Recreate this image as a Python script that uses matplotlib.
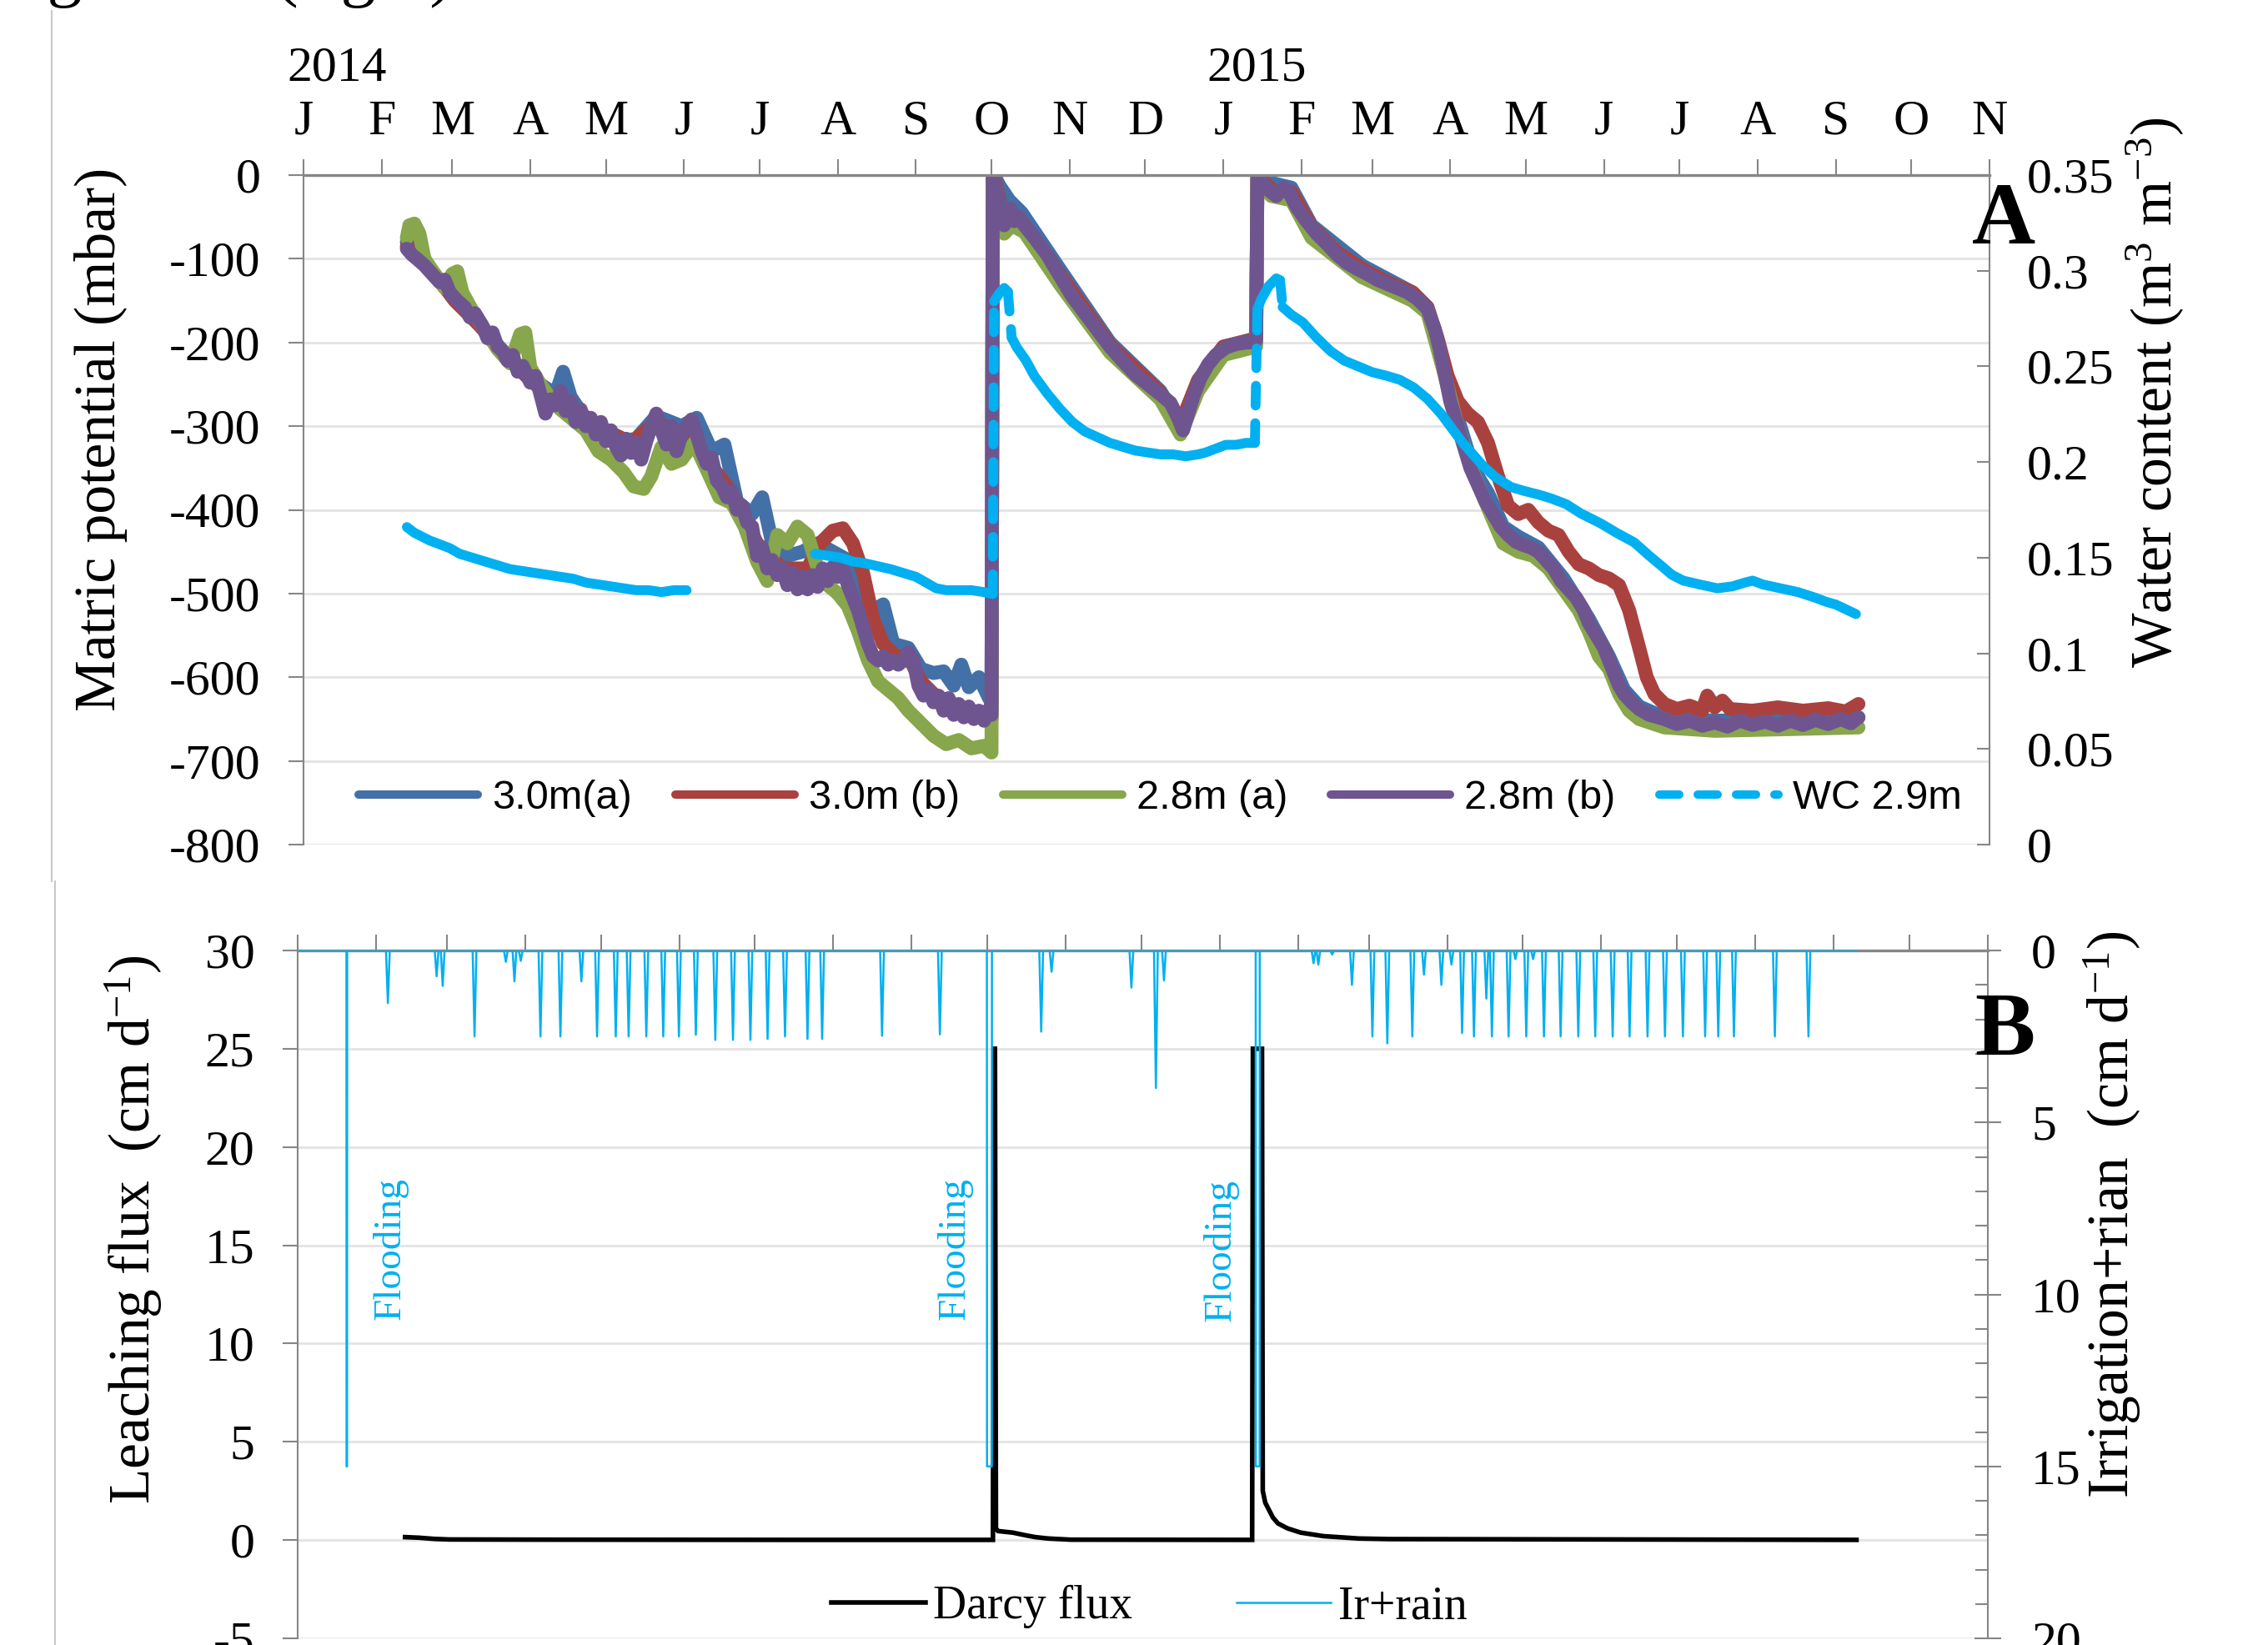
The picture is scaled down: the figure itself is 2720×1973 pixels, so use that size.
import numpy as np
import matplotlib
matplotlib.use("Agg")
import matplotlib.pyplot as plt
from matplotlib.lines import Line2D
from matplotlib import font_manager as fm

# ---------------------------------------------------------------- data
month_labels = list("JFMAMJJASONDJFMAMJJASON")
year_labels = ["2014", "2015"]
months = np.arange("2014-01", "2015-12", dtype="datetime64[M]")
month_days = (months.astype("datetime64[D]") - np.datetime64("2014-01-01")).astype(int)
year_days = [month_days[0], month_days[12]]

# matric potential (mbar), x = days since 1 Jan 2014
blue_day = [41, 50, 60, 70, 80, 90, 100, 103, 106, 112,
            120, 126, 132, 140, 150, 156, 162, 167, 172, 178,
            182, 186, 192, 198, 204, 210, 216, 220, 226, 230,
            234, 240, 245, 250, 254, 258, 261, 264, 268, 272,
            273, 273.5, 274, 276, 280, 285, 300, 320, 340, 348,
            355, 365, 378, 378.5, 385, 392, 400, 420, 440, 446,
            452, 458, 464, 470, 476, 482, 490, 500, 510, 518,
            524, 530, 540, 560, 590, 617]
blue_val = [-80, -112, -148, -180, -213, -242, -262, -235, -265, -292,
            -310, -318, -315, -288, -300, -290, -330, -322, -390, -405,
            -385, -440, -455, -450, -440, -450, -460, -490, -520, -513,
            -560, -565, -590, -595, -593, -610, -585, -612, -600, -625,
            -630, -3, 0, -12, -30, -45, -112, -200, -258, -298,
            -245, -205, -195, 0, -10, -15, -60, -108, -140, -158,
            -220, -290, -350, -380, -420, -432, -445, -482, -530, -575,
            -615, -635, -648, -652, -650, -648]

red_day = [41, 50, 60, 70, 80, 90, 100, 110, 120, 130,
           140, 150, 160, 170, 180, 190, 200, 205, 210, 214,
           218, 222, 226, 230, 235, 240, 245, 250, 255, 260,
           265, 270, 273, 273.5, 274, 278, 285, 300, 320, 340,
           348, 355, 365, 378, 378.5, 385, 392, 400, 410, 420,
           430, 440, 446, 450, 454, 458, 462, 466, 470, 474,
           478, 482, 486, 490, 494, 498, 502, 506, 510, 514,
           518, 522, 526, 530, 533, 536, 540, 545, 550, 555,
           557, 560, 563, 566, 575, 585, 595, 605, 612, 617]
red_val = [-85, -110, -150, -180, -215, -245, -270, -285, -305, -320,
           -295, -310, -340, -380, -440, -470, -470, -440, -425, -422,
           -440, -475, -530, -560, -575, -575, -605, -620, -628, -635,
           -640, -645, -650, -5, 0, -55, -55, -118, -203, -260,
           -298, -245, -205, -196, 0, -20, -20, -62, -92, -112,
           -128, -140, -158, -195, -240, -270, -285, -295, -320, -360,
           -395, -405, -400, -415, -425, -430, -450, -465, -470, -478,
           -482, -490, -520, -565, -600, -620, -632, -638, -634, -640,
           -622, -636, -628, -638, -640, -636, -640, -637, -641, -632]

green_day = [41, 42, 44, 46, 48, 52, 56, 59, 61, 63,
             67, 72, 77, 82, 86, 88, 90, 94, 100, 106,
             112, 117, 122, 127, 131, 135, 138, 142, 146, 150,
             155, 160, 165, 170, 175, 180, 184, 188, 192, 196,
             200, 204, 208, 212, 216, 220, 224, 228, 232, 236,
             240, 245, 250, 255, 260, 265, 270, 273, 273.5, 274,
             276, 278, 281, 286, 300, 320, 340, 348, 355, 365,
             378, 378.5, 384, 392, 400, 420, 440, 446, 452, 458,
             464, 470, 476, 482, 488, 494, 500, 506, 510, 514,
             518, 522, 526, 530, 540, 560, 590, 617]
green_val = [-75, -60, -58, -70, -100, -118, -135, -118, -115, -140,
             -162, -185, -208, -225, -190, -188, -230, -250, -275, -290,
             -305, -330, -340, -355, -372, -375, -360, -325, -345, -340,
             -320, -352, -385, -392, -420, -462, -485, -430, -440, -420,
             -430, -470, -490, -500, -515, -545, -580, -605, -615, -625,
             -640, -655, -670, -680, -675, -685, -682, -690, -10, -5,
             -35, -70, -60, -68, -130, -212, -268, -310, -258, -215,
             -205, -5, -25, -30, -75, -122, -150, -165, -230, -300,
             -355, -398, -440, -450, -455, -470, -495, -520, -545, -575,
             -590, -620, -640, -650, -660, -664, -662, -660]

purple_day = [41, 43, 45, 48, 51, 54, 56, 58, 61, 64,
              66, 68, 71, 73, 75, 77, 79, 81, 83, 85,
              87, 90, 92, 94, 96, 98, 100, 102, 104, 106,
              108, 110, 112, 114, 116, 118, 120, 122, 124, 126,
              128, 130, 132, 134, 136, 138, 140, 142, 144, 146,
              148, 150, 152, 154, 156, 158, 160, 162, 164, 166,
              168, 170, 172, 174, 176, 178, 180, 182, 184, 186,
              188, 190, 192, 194, 196, 198, 200, 202, 204, 206,
              208, 210, 212, 214, 216, 218, 220, 222, 224, 226,
              228, 230, 232, 234, 236, 238, 240, 242, 244, 246,
              248, 250, 252, 254, 256, 258, 260, 262, 264, 266,
              268, 270, 272, 273, 273.5, 274, 275, 276.5, 278, 279,
              280.5, 282, 284, 286, 290, 295, 300, 305, 310, 315,
              320, 325, 330, 335, 340, 344, 347, 349, 351, 353,
              356, 359, 362, 366, 370, 374, 377, 378, 378.5, 380,
              383, 386, 389, 391, 394, 398, 402, 406, 410, 414,
              418, 422, 426, 430, 434, 438, 442, 446, 449, 451,
              453, 455, 457, 459, 461, 463, 466, 469, 472, 475,
              478, 481, 484, 487, 490, 493, 496, 499, 502, 505,
              508, 510, 512, 514, 516, 518, 520, 522, 524, 527,
              530, 534, 540, 545, 550, 555, 560, 565, 570, 575,
              580, 585, 590, 595, 600, 605, 610, 614, 617]
purple_val = [-88, -95, -100, -108, -118, -128, -125, -140, -150, -158,
              -170, -165, -180, -195, -188, -205, -210, -222, -215, -235,
              -228, -248, -240, -262, -285, -268, -275, -258, -282, -270,
              -295, -280, -300, -290, -310, -295, -318, -305, -325, -335,
              -315, -332, -320, -340, -318, -300, -285, -305, -322, -300,
              -330, -310, -300, -292, -310, -330, -345, -338, -365, -372,
              -385, -378, -400, -395, -415, -420, -455, -445, -470, -460,
              -478, -470, -490, -475, -495, -480, -495, -478, -492, -470,
              -485, -468, -480, -470, -490, -505, -520, -540, -560, -575,
              -580, -575, -585, -580, -585, -580, -570, -580, -610, -622,
              -615, -630, -622, -640, -625, -645, -632, -648, -635, -650,
              -640, -652, -638, -645, -5, -2, -20, -35, -60, -45,
              -40, -55, -50, -60, -75, -95, -120, -145, -165, -185,
              -205, -222, -238, -250, -262, -272, -290, -305, -285, -265,
              -242, -226, -215, -206, -202, -200, -200, -198, -3, -6,
              -18, -25, -15, -20, -38, -55, -70, -82, -95, -105,
              -112, -118, -125, -130, -135, -140, -148, -160, -185, -210,
              -240, -270, -290, -310, -330, -350, -370, -390, -405, -420,
              -430, -438, -442, -445, -450, -460, -470, -485, -495, -505,
              -520, -535, -545, -555, -565, -580, -595, -610, -620, -630,
              -638, -645, -650, -656, -652, -658, -654, -659, -652, -657,
              -653, -658, -652, -657, -651, -656, -650, -655, -648]

# water content at 2.9 m (m3 m-3); nan = no data
wc_day = [41, 44, 47, 50, 54, 58, 62, 67, 72, 77,
          82, 87, 92, 97, 102, 107, 112, 117, 122, 127,
          132, 137, 142, 147, 152, 177,
          203, 208, 213, 218, 223, 228, 233, 238, 243, 247,
          251, 255, 260, 265, 270, 273.5, 274, 276, 278, 279.5,
          281, 283, 286.7, 290, 295, 300, 305, 310, 315, 320,
          325, 330, 335, 340, 345, 350, 355, 358, 362, 366,
          370, 374, 377.5, 378.5, 380, 383, 386, 387.5, 388.5, 392,
          396.5, 402, 407.5, 413, 418.5, 424, 430, 435, 440.5, 446,
          451.5, 456, 460, 464, 468, 473, 479, 484, 490, 495,
          501, 507, 514.6, 521, 528, 534, 539, 543, 547.5, 554,
          561, 567, 572, 575, 579, 586, 593, 600, 604, 608,
          612, 616]
wc_val = [0.166, 0.163, 0.161, 0.159, 0.157, 0.155, 0.152, 0.150, 0.148, 0.146,
          0.144, 0.143, 0.142, 0.141, 0.140, 0.139, 0.137, 0.136, 0.135, 0.134,
          0.133, 0.133, 0.132, 0.133, 0.133, np.nan,
          0.152, 0.151, 0.150, 0.148, 0.147, 0.1455, 0.144, 0.142, 0.140, 0.137,
          0.134, 0.133, 0.133, 0.133, 0.132, 0.131, 0.284, 0.288, 0.291, 0.289,
          0.265, 0.260, 0.253, 0.245, 0.236, 0.228, 0.221, 0.216, 0.213, 0.210,
          0.208, 0.206, 0.205, 0.204, 0.204, 0.203, 0.204, 0.205, 0.207, 0.209,
          0.209, 0.210, 0.210, 0.280, 0.285, 0.292, 0.296, 0.295, 0.281, 0.277,
          0.273, 0.265, 0.258, 0.253, 0.250, 0.247, 0.245, 0.243, 0.239, 0.233,
          0.225, 0.217, 0.210, 0.204, 0.198, 0.192, 0.187, 0.185, 0.183, 0.181,
          0.178, 0.173, 0.168, 0.163, 0.158, 0.151, 0.1455, 0.141, 0.138, 0.136,
          0.134, 0.135, 0.137, 0.138, 0.136, 0.134, 0.132, 0.129, 0.127, 0.1255,
          0.123, 0.1205]

# Darcy flux (cm/d)
darcy_day = [42.5, 48, 54, 60, 100, 200, 275.2, 275.5, 276.0, 276.4,
             277.2, 280, 283, 288.6, 292, 297, 306, 377.8, 378.1, 381.7,
             382.0, 383, 386, 388, 391.7, 397, 406, 420, 432, 617]
darcy_val = [0.15, 0.12, 0.06, 0.03, 0.02, 0.01, 0.01, 25, 25, 0.6,
             0.46, 0.42, 0.38, 0.23, 0.15, 0.08, 0.02, 0.01, 25, 25,
             2.5, 1.9, 1.15, 0.85, 0.6, 0.38, 0.2, 0.08, 0.05, 0.01]

# irrigation + rain events (cm/d)
irr_day = [35.7, 55.0, 57.4, 70.0, 82.4, 85.8, 88.3, 96.1, 104.0, 112.3,
           118.5, 125.9, 131.0, 138.0, 144.7, 150.9, 157.6, 165.3, 172.3, 179.2,
           186.0, 192.9, 201.8, 207.6, 231.3, 254.2, 294.3, 298.4, 330.0, 339.7,
           342.9, 402.1, 404.0, 409.5, 417.3, 425.4, 431.3, 441.2, 445.8, 452.7,
           456.7, 460.9, 465.6, 470.5, 472.7, 479.3, 482.0, 486.3, 489.0, 493.3,
           499.9, 506.9, 513.6, 520.5, 527.2, 534.3, 541.2, 548.3, 557.1, 562.3,
           568.5, 584.7, 598.0]
irr_depth = [1.53, 0.75, 1.03, 2.5, 0.33, 0.9, 0.3, 2.5, 2.5, 0.9,
             2.5, 2.5, 2.5, 2.5, 2.5, 2.5, 2.45, 2.6, 2.6, 2.6,
             2.57, 2.5, 2.57, 2.57, 2.48, 2.44, 2.36, 0.62, 1.08, 4.0,
             0.87, 0.37, 0.41, 0.12, 1.0, 2.5, 2.7, 2.5, 0.7, 1.0,
             0.41, 2.4, 2.5, 1.4, 2.5, 2.5, 0.25, 2.5, 0.25, 2.5,
             2.5, 2.5, 2.5, 2.5, 2.5, 2.5, 2.5, 2.5, 2.5, 2.5,
             2.5, 2.5, 2.5]
flood_start = [19.3, 272.8, 379.2]
flood_end = [19.6, 274.8, 380.8]
flood_depth = [15, 15, 15]
irr_first, irr_last = 0, 617

# ---------------------------------------------------------------- style
W, H, DPI = 2720, 1973, 100
plt.rcParams["font.family"] = ["Liberation Serif", "DejaVu Serif"]
plt.rcParams["axes.unicode_minus"] = False
plt.rcParams["mathtext.fontset"] = "custom"
plt.rcParams["mathtext.rm"] = "Liberation Serif"

names = {f.name for f in fm.fontManager.ttflist}
if "Liberation Sans Narrow" in names:
    LEGFONT, LEGSIZE = "Liberation Sans Narrow", 41
else:
    LEGFONT, LEGSIZE = "Liberation Sans", 35

GRAY = "#868686"
GRID = "#e3e3e3"
CYAN = "#00B0F0"
C_BLUE, C_RED, C_GREEN, C_PURPLE = "#4470A8", "#A9423F", "#88A64B", "#6F5590"
TICK = 43
LAB = 50

fig = plt.figure(figsize=(W / DPI, H / DPI), dpi=DPI)
axA = fig.add_axes([364 / W, 1 - 1013 / H, (2386 - 364) / W, (1013 - 210) / H])
axB = fig.add_axes([357 / W, 1 - 1965 / H, (2384 - 357) / W, (1965 - 1140) / H])

for ax in (axA, axB):
    ax.set_xlim(0, 669)
    ax.xaxis.tick_top()
    ax.set_xticks(month_days)
    ax.tick_params(axis="x", direction="out", length=14, width=1.5, color=GRAY,
                   pad=12, labelsize=TICK)
    ax.spines["bottom"].set_visible(False)
    ax.spines["right"].set_visible(False)
    ax.spines["top"].set_color(GRAY)
    ax.spines["top"].set_linewidth(2.4)
    ax.spines["left"].set_color(GRAY)
    ax.spines["left"].set_linewidth(1.5)
    ax.grid(axis="y", color=GRID, lw=2)
    ax.set_axisbelow(True)
    ax.tick_params(axis="y", direction="out", length=13, width=1.5, color=GRAY,
                   pad=24, labelsize=TICK)
axA.set_xticklabels(month_labels)
axB.set_xticklabels([])

# ---------------- panel A
axA.set_ylim(-800, 0)
axA.set_yticks(np.arange(-800, 1, 100))
lwm = 12
for d, v, c in ((blue_day, blue_val, C_BLUE), (red_day, red_val, C_RED),
                (green_day, green_val, C_GREEN), (purple_day, purple_val, C_PURPLE)):
    axA.plot(d, v, color=c, lw=lwm, solid_capstyle="round", solid_joinstyle="round")

for yd, yl in zip(year_days, year_labels):
    axA.annotate(yl, xy=(yd, 1), xycoords=("data", "axes fraction"),
                 xytext=(-14, 82), textcoords="offset points",
                 ha="left", va="baseline", fontsize=TICK)

axA2 = axA.twinx()
axA2.set_ylim(0, 0.35)
wc_ticks = [0, 0.05, 0.1, 0.15, 0.2, 0.25, 0.3, 0.35]
axA2.set_yticks(wc_ticks)
axA2.set_yticklabels(["%g" % t for t in wc_ticks])
axA2.tick_params(axis="y", direction="in", length=11, width=1.5, color=GRAY,
                 pad=32, labelsize=TICK)
for s in ("left", "top", "bottom"):
    axA2.spines[s].set_visible(False)
axA2.spines["right"].set_color(GRAY)
axA2.spines["right"].set_linewidth(1.5)

wd = np.array(wc_day, float)
wv = np.array(wc_val, float)
jump = np.abs(np.diff(wv)) > 0.012
xs, ys = [], []
for i in range(len(wd)):
    xs.append(wd[i]); ys.append(wv[i])
    if i < len(jump) and jump[i]:
        xs.append(np.nan); ys.append(np.nan)
lww = 8.5
axA2.plot(xs, ys, color=CYAN, lw=lww, solid_capstyle="round", solid_joinstyle="round")
for i in np.where(jump)[0]:
    axA2.plot(wd[i:i + 2], wv[i:i + 2], color=CYAN, lw=lww,
              dashes=(2.0, 1.8), dash_capstyle="round")

handlesA = [Line2D([], [], color=c, lw=7.2, solid_capstyle="round")
            for c in (C_BLUE, C_RED, C_GREEN, C_PURPLE)]
handlesA.append(Line2D([], [], color=CYAN, lw=7.2, dashes=(2.4, 2.2),
                       dash_capstyle="round"))
labelsA = ["3.0m(a)", "3.0m (b)", "2.8m (a)", "2.8m (b)", "WC 2.9m"]
fpx = LEGSIZE * DPI / 72.0
axA2.legend(handlesA, labelsA, loc="center left",
            bbox_to_anchor=(430 / W, 1 - 958 / H), bbox_transform=fig.transFigure,
            ncol=5, frameon=False, borderpad=0, borderaxespad=0,
            handlelength=143 / fpx, handletextpad=17 / fpx, columnspacing=52 / fpx,
            prop={"family": LEGFONT, "size": LEGSIZE})

# ---------------- panel B
axB.set_ylim(-5, 30)
axB.set_yticks(np.arange(-5, 31, 5))
axB.plot(darcy_day, darcy_val, color="black", lw=4, solid_joinstyle="miter")

axB2 = axB.twinx()
axB2.set_ylim(20, 0)
axB2.set_yticks([0, 5, 10, 15, 20])
axB2.set_yticks(np.arange(0, 21, 1), minor=True)
axB2.tick_params(axis="y", which="major", direction="inout", length=23, width=1.5,
                 color=GRAY, pad=26, labelsize=TICK)
axB2.tick_params(axis="y", which="minor", direction="in", length=11, width=1.5,
                 color=GRAY)
for s in ("left", "top", "bottom"):
    axB2.spines[s].set_visible(False)
axB2.spines["right"].set_color(GRAY)
axB2.spines["right"].set_linewidth(1.5)

events = []
for d, h in zip(irr_day, irr_depth):
    events.append((d, [(d - 0.75, 0), (d, h), (d + 0.75, 0)]))
for s, e, h in zip(flood_start, flood_end, flood_depth):
    events.append((s, [(s, 0), (s + 0.05, h), (e - 0.05, h), (e, 0)]))
events.sort(key=lambda t: t[0])
pts = [(irr_first, 0)]
for _, p in events:
    pts.extend(p)
pts.append((irr_last, 0))
px, py = zip(*pts)
axB2.plot(px, py, color=CYAN, lw=1.8)

handlesB = [Line2D([], [], color="black", lw=4), Line2D([], [], color=CYAN, lw=1.8)]
fpxB = 40 * DPI / 72.0
axB2.legend(handlesB, ["Darcy flux", "Ir+rain"], loc="center left",
            bbox_to_anchor=(997 / W, 1 - 1927 / H), bbox_transform=fig.transFigure,
            ncol=2, frameon=False, borderpad=0, borderaxespad=0,
            handlelength=113 / fpxB, handletextpad=9 / fpxB, columnspacing=125 / fpxB,
            prop={"family": ["Liberation Serif"], "size": 40})

for xpx, ypx in ((468, 1498), (1145, 1498), (1464, 1500)):
    fig.text(xpx / W, 1 - ypx / H, "Flooding", rotation=90, ha="center", va="center",
             fontsize=34, color=CYAN)

# ---------------- axis labels & panel letters
fig.text(121 / W, 1 - 527 / H, "Matric potential (mbar)", rotation=90,
         ha="center", va="center", fontsize=LAB)
fig.text(2585 / W, 1 - 471 / H, "Water content (m$\\mathregular{^{3}}$ m$\\mathregular{^{-3}}$)",
         rotation=90, ha="center", va="center", fontsize=LAB)
fig.text(160 / W, 1 - 1475 / H, "Leaching flux  (cm d$\\mathregular{^{-1}}$)", rotation=90,
         ha="center", va="center", fontsize=LAB)
fig.text(2533 / W, 1 - 1457 / H, "Irrigation+rian  (cm d$\\mathregular{^{-1}}$)", rotation=90,
         ha="center", va="center", fontsize=LAB)
fig.text(2403 / W, 1 - 266 / H, "A", ha="center", va="center", fontsize=76,
         fontweight="bold")
fig.text(2404 / W, 1 - 1239 / H, "B", ha="center", va="center", fontsize=78,
         fontweight="bold")

# cut-off caption at the very top and page border on the left
fig.text(-13 / W, 1 + 8 / H, "Figure 10 (right)", ha="left", va="baseline", fontsize=60)
fig.add_artist(Line2D([62 / W, 62 / W], [1 - 13 / H, 1 - 1057 / H], color="#c8c8c8", lw=1.5))
fig.add_artist(Line2D([66 / W, 66 / W], [1 - 1057 / H, 0], color="#c8c8c8", lw=1.5))

fig.savefig("out.png", dpi=DPI)
